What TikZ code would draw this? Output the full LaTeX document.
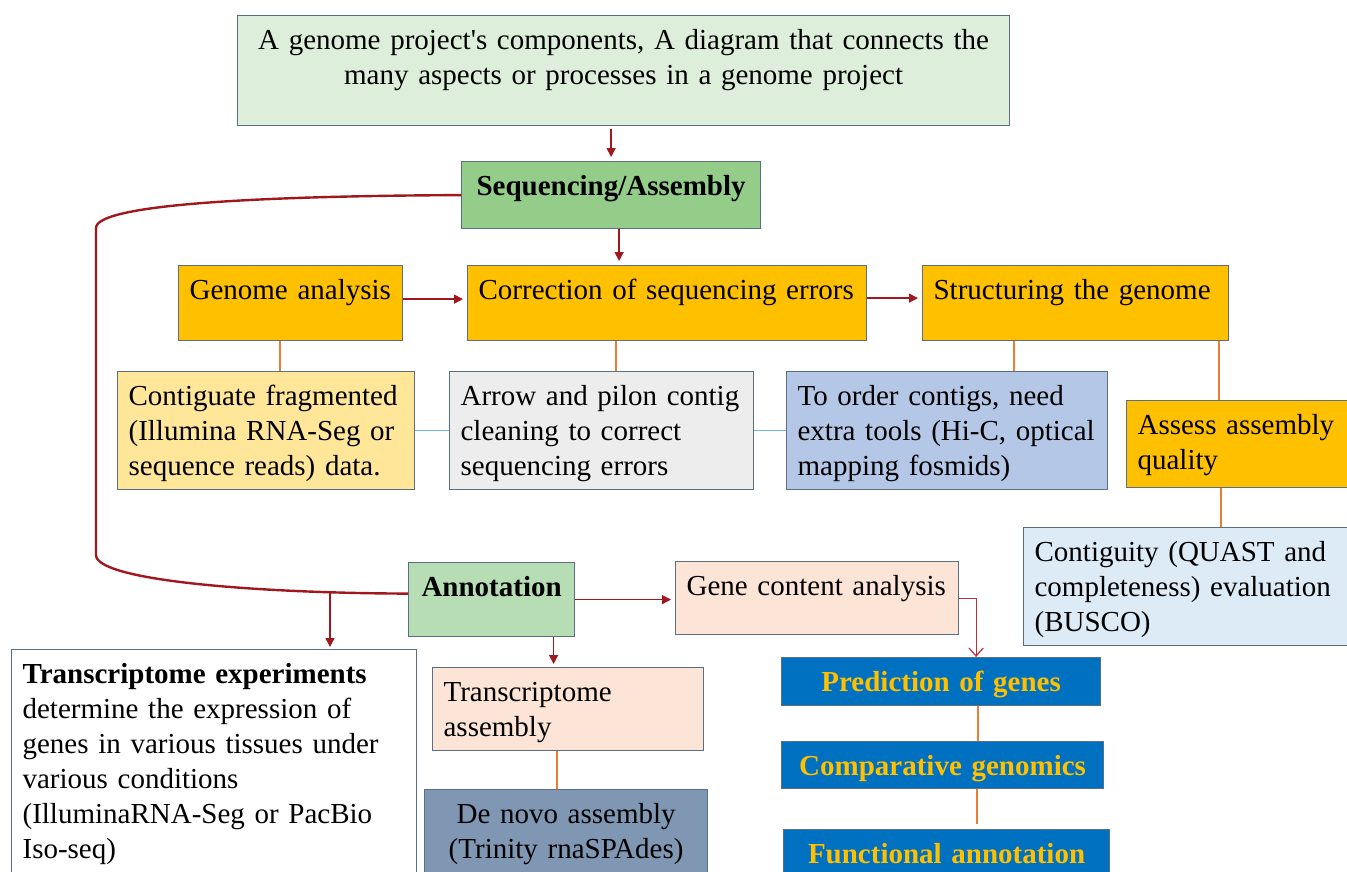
\documentclass[tikz,border=0pt]{standalone}
\usepackage{fontspec}
\setmainfont{Liberation Serif}
\usetikzlibrary{arrows.meta,calc}

\definecolor{edge}{RGB}{92,110,130}
\definecolor{linkred}{RGB}{160,24,30}
\definecolor{hookred}{RGB}{180,50,60}
\definecolor{tieorange}{RGB}{237,125,49}
\definecolor{tieblue}{RGB}{111,183,233}
\definecolor{fTop}{RGB}{221,239,218}
\definecolor{fSeq}{RGB}{148,205,138}
\definecolor{fAnn}{RGB}{183,221,181}
\definecolor{fGold}{RGB}{255,192,0}
\definecolor{fCream}{RGB}{255,230,153}
\definecolor{fGrey}{RGB}{237,237,237}
\definecolor{fLav}{RGB}{180,199,231}
\definecolor{fIce}{RGB}{221,235,247}
\definecolor{fPeach}{RGB}{252,228,214}
\definecolor{fSlate}{RGB}{127,151,178}
\definecolor{fBlue}{RGB}{0,112,192}

\tikzset{
  box/.style={draw=edge, line width=1.2pt, inner xsep=11pt, inner ysep=0pt,
    anchor=north west, align=left, font=\fontsize{29}{35}\selectfont},
  boldbox/.style={box, align=center, font=\fontsize{29}{35}\selectfont\bfseries},
  flow/.style={draw=linkred, line width=1.4pt, -{Triangle[length=9pt,width=9pt]}, shorten >=4pt},
  hook/.style={draw=hookred, line width=1.2pt, -{Straight Barb[length=8pt,width=14pt]}},
  bigloop/.style={draw=linkred, line width=2.4pt},
  tie/.style={draw=tieorange, line width=2pt},
  bridge/.style={draw=tieblue, line width=1.5pt},
}

% name, style, left, top, width, height, text
\newcommand\mkbox[7]{%
  \pgfmathsetmacro\mkW{#5-22}%
  \pgfmathsetmacro\mkD{#6-34}%
  \node[#2, text width=\mkW pt, text height=34pt, text depth=\mkD pt] (#1) at (#3pt,-#4pt) {#7};}

\begin{document}
\begin{tikzpicture}
\useasboundingbox (0,0) rectangle (1347pt,-871pt);
\clip (0,0) rectangle (1347pt,-871pt);

% header and main stages
\mkbox{top}{box, fill=fTop, align=center}{237}{15}{772}{110}{A genome project\textquotesingle s components, A diagram that connects the\\ many aspects or processes in a genome project}
\mkbox{seq}{boldbox, fill=fSeq}{461}{161}{299}{67}{Sequencing/Assembly}
\mkbox{genome}{box, fill=fGold}{178}{265}{224}{75}{Genome analysis}
\mkbox{corr}{box, fill=fGold}{467}{265}{399}{75}{Correction of sequencing errors}
\mkbox{struct}{box, fill=fGold}{922}{265}{306}{75}{Structuring the genome}

% details of the sequencing stage
\mkbox{contig}{box, fill=fCream}{117}{371}{297}{118}{Contiguate fragmented\\ (Illumina RNA-Seg or\\ sequence reads) data.}
\mkbox{pilon}{box, fill=fGrey}{449}{371}{304}{118}{Arrow and pilon contig\\ cleaning to correct\\ sequencing errors}
\mkbox{order}{box, fill=fLav}{786}{371}{321}{118}{To order contigs, need\\ extra tools (Hi-C, optical\\ mapping fosmids)}
\mkbox{assess}{box, fill=fGold}{1126}{400}{223}{87}{Assess assembly\\ quality}
\mkbox{contiguity}{box, fill=fIce}{1023}{527}{326}{118}{Contiguity (QUAST and\\ completeness) evaluation\\ (BUSCO)}

% annotation stage
\mkbox{ann}{boldbox, fill=fAnn}{408}{562}{166}{74}{Annotation}
\mkbox{gene}{box, fill=fPeach}{675}{561}{283}{73}{Gene content analysis}
\mkbox{te}{box, fill=white}{11}{649}{405}{226}{\textbf{Transcriptome experiments}\\ determine the expression of\\ genes in various tissues under\\ various conditions\\ (IlluminaRNA-Seg or PacBio\\ Iso-seq)}
\mkbox{ta}{box, fill=fPeach}{432}{667}{271}{83}{Transcriptome\\ assembly}
\mkbox{denovo}{box, fill=fSlate, align=center}{424}{789}{283}{90}{De novo assembly\\ (Trinity rnaSPAdes)}
\mkbox{pred}{boldbox, fill=fBlue, text=fGold}{781}{657}{319}{48}{Prediction of genes}
\mkbox{comp}{boldbox, fill=fBlue, text=fGold}{781}{741}{322}{47}{Comparative genomics}
\mkbox{func}{boldbox, fill=fBlue, text=fGold}{783}{829}{326}{50}{Functional annotation}

% arrows between stages
\draw[flow, shorten <=3pt] (top.south -| seq.north) -- (seq.north);
\draw[flow] ($(seq.south)+(8pt,0)$) -- ($(seq.south |- corr.north)+(8pt,0)$);
\draw[flow] ($(genome.east)+(0,4pt)$) -- ($(corr.west)+(0,4pt)$);
\draw[flow] ($(corr.east)+(0,5pt)$) -- ($(struct.west)+(0,5pt)$);
\draw[flow] (ann.east) -- (ann.east -| gene.west);
\draw[flow, shorten >=3pt] ($(ann.south)+(62pt,0)$) -- ($(ann.south |- ta.north)+(62pt,0)$);
\draw[hook] (gene.east) -| ($(pred.north)+(35pt,0)$);

% bracket from sequencing down to annotation
\draw[bigloop] (seq.west) .. controls (250pt,-196pt) and (96pt,-205pt) .. (96pt,-228pt)
  -- (96pt,-555pt) .. controls (96pt,-580pt) and (250pt,-593pt) .. ($(ann.west)+(0,6pt)$);
\coordinate (tap) at (330pt,-591pt);
\draw[flow, shorten >=2pt] (tap) -- (tap |- te.north);

% orange ties
\draw[tie] ($(genome.south)+(-11pt,0)$) -- ($(genome.south |- contig.north)+(-11pt,0)$);
\draw[tie] ($(corr.south -| pilon.north)+(14pt,0)$) -- ($(pilon.north)+(14pt,0)$);
\draw[tie] ($(struct.south)+(-62pt,0)$) -- ($(struct.south |- order.north)+(-62pt,0)$);
\draw[tie] ($(struct.south)+(143pt,0)$) -- ($(struct.south |- assess.north)+(143pt,0)$);
\draw[tie] ($(assess.south)+(-17.5pt,0)$) -- ($(assess.south |- contiguity.north)+(-17.5pt,0)$);
\draw[tie] ($(ta.south)+(-11.5pt,0)$) -- ($(ta.south |- denovo.north)+(-11.5pt,0)$);
\draw[tie] ($(pred.south)+(36.5pt,0)$) -- ($(pred.south |- comp.north)+(36.5pt,0)$);
\draw[tie, shorten >=5pt] ($(comp.south)+(34pt,0)$) -- ($(comp.south |- func.north)+(34pt,0)$);

% blue bridges
\draw[bridge] (contig.east) -- (pilon.west);
\draw[bridge] (pilon.east) -- (order.west);
\end{tikzpicture}
\end{document}
